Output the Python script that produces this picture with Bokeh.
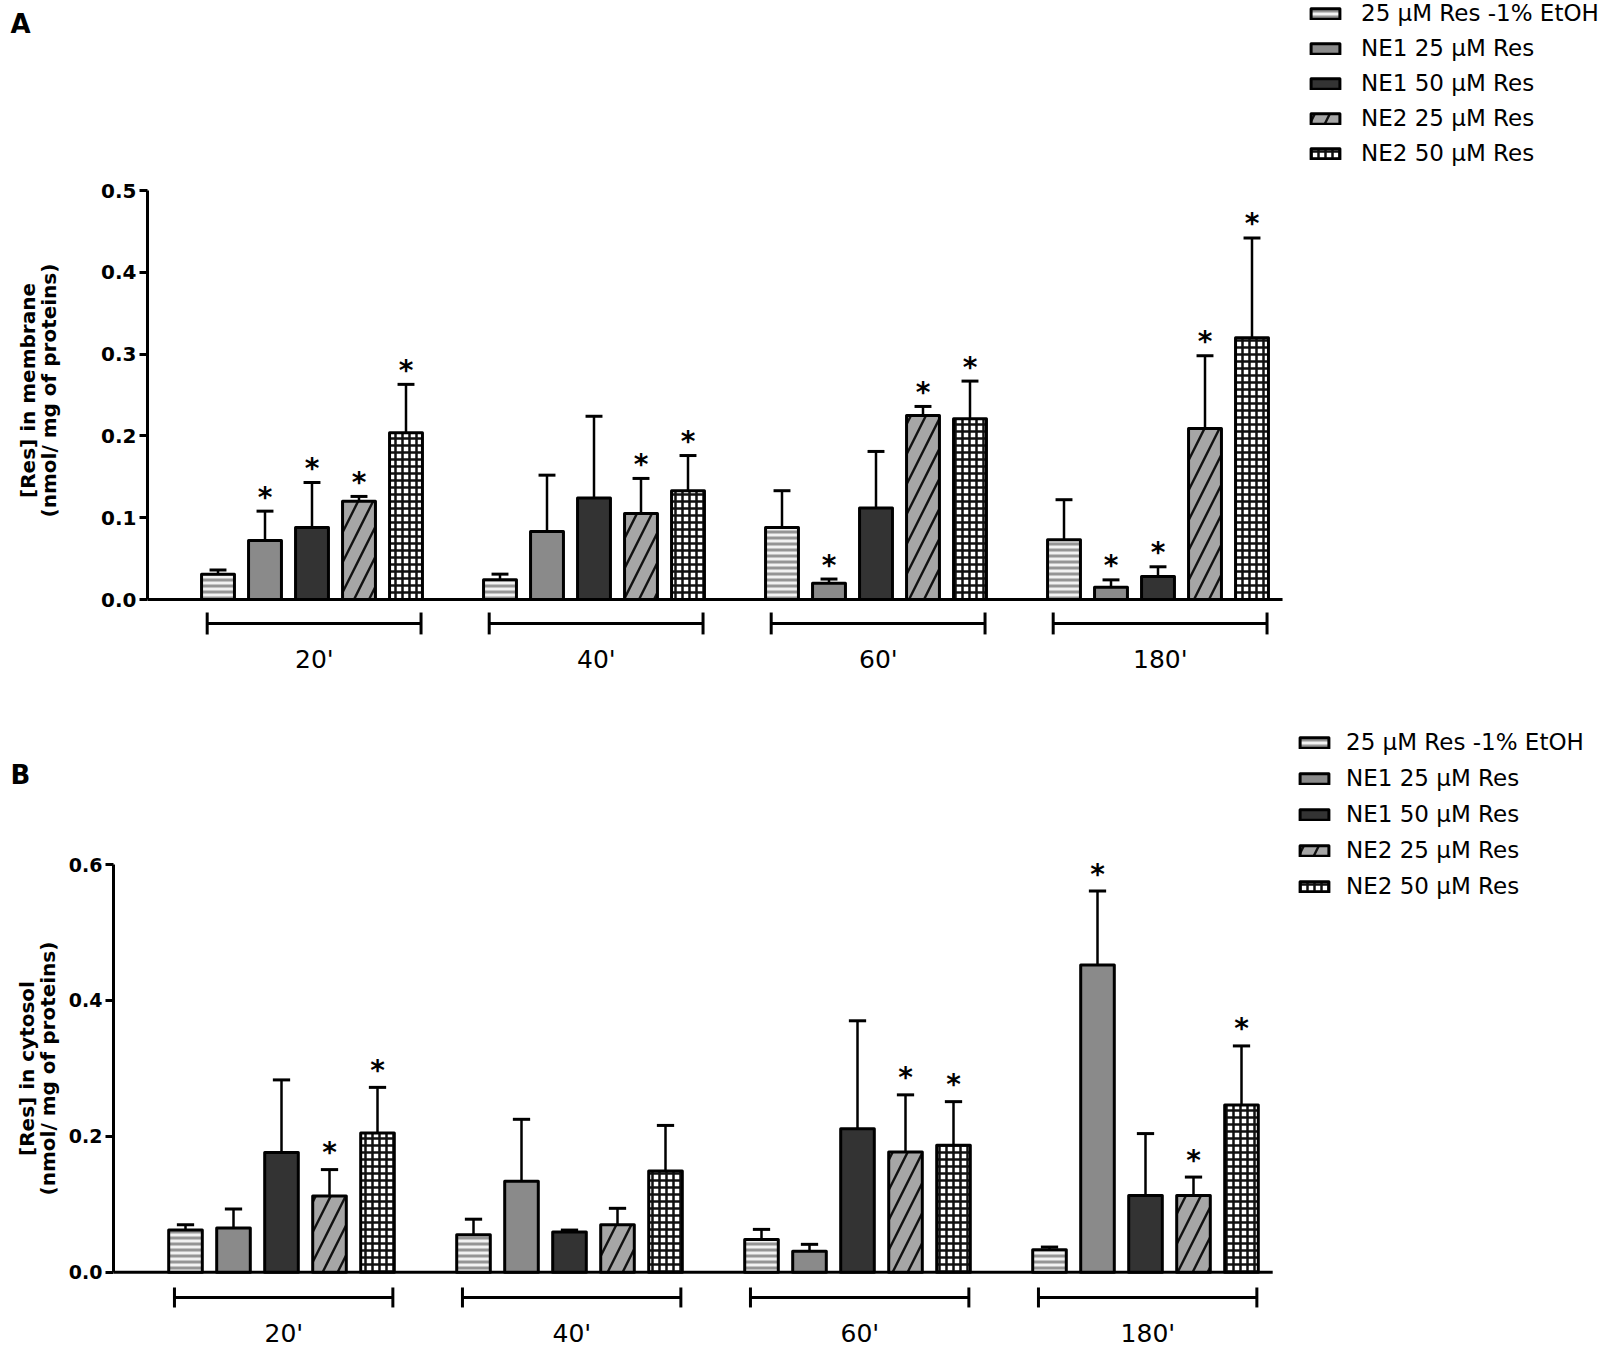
import math
from bokeh.plotting import figure
from bokeh.models import (FixedTicker, PrintfTickFormatter, Legend,
                          LegendItem, ColumnDataSource, Range1d)
from bokeh.layouts import column, row
from bokeh.embed import file_html
from bokeh.resources import INLINE
from bokeh.core.properties import value

# ---------------- data ----------------
times = ["20'", "40'", "60'", "180'"]
series = ["25 µM Res -1% EtOH", "NE1 25 µM Res", "NE1 50 µM Res",
          "NE2 25 µM Res", "NE2 50 µM Res"]

# Panel A: [Res] in membrane (mean, upper SD)
mem_etoh = [0.031, 0.024, 0.088, 0.073]
mem_etoh_sd = [0.005, 0.007, 0.045, 0.049]
mem_ne1_25 = [0.072, 0.083, 0.020, 0.015]
mem_ne1_25_sd = [0.036, 0.069, 0.005, 0.009]
mem_ne1_50 = [0.088, 0.124, 0.112, 0.028]
mem_ne1_50_sd = [0.055, 0.100, 0.069, 0.012]
mem_ne2_25 = [0.120, 0.105, 0.225, 0.209]
mem_ne2_25_sd = [0.006, 0.043, 0.011, 0.089]
mem_ne2_50 = [0.204, 0.133, 0.221, 0.320]
mem_ne2_50_sd = [0.059, 0.043, 0.046, 0.122]
# significance flags (1 = "*")
mem_stars_etoh = [0, 0, 0, 0]
mem_stars_ne1_25 = [1, 0, 1, 1]
mem_stars_ne1_50 = [1, 0, 0, 1]
mem_stars_ne2_25 = [1, 1, 1, 1]
mem_stars_ne2_50 = [1, 1, 1, 1]

# Panel B: [Res] in cytosol
cyt_etoh = [0.062, 0.055, 0.048, 0.033]
cyt_etoh_sd = [0.008, 0.023, 0.015, 0.004]
cyt_ne1_25 = [0.065, 0.134, 0.031, 0.452]
cyt_ne1_25_sd = [0.028, 0.091, 0.010, 0.109]
cyt_ne1_50 = [0.176, 0.059, 0.211, 0.113]
cyt_ne1_50_sd = [0.107, 0.003, 0.159, 0.091]
cyt_ne2_25 = [0.112, 0.070, 0.177, 0.113]
cyt_ne2_25_sd = [0.039, 0.024, 0.084, 0.027]
cyt_ne2_50 = [0.205, 0.149, 0.187, 0.246]
cyt_ne2_50_sd = [0.067, 0.067, 0.064, 0.087]
cyt_stars_etoh = [0, 0, 0, 0]
cyt_stars_ne1_25 = [0, 0, 0, 1]
cyt_stars_ne1_50 = [0, 0, 0, 0]
cyt_stars_ne2_25 = [1, 0, 1, 1]
cyt_stars_ne2_50 = [1, 0, 1, 1]

mem_ticks = [0.0, 0.1, 0.2, 0.3, 0.4, 0.5]
cyt_ticks = [0.0, 0.2, 0.4, 0.6]

mem_title = ["[Res] in membrane", "(nmol/ mg of proteins)"]
cyt_title = ["[Res] in cytosol", "(nmol/ mg of proteins)"]

# ---------------- styles ----------------
FONT = "DejaVu Sans"
STYLES = [
    dict(fill_color="#f2f2f2", hatch_pattern="horizontal_line",
         hatch_color="#959595", hatch_scale=6, hatch_weight=3),
    dict(fill_color="#8a8a8a"),
    dict(fill_color="#333333"),
    dict(fill_color="#a6a6a6", hatch_pattern="right_diagonal_line",
         hatch_color="#111111", hatch_scale=30, hatch_weight=2.4),
    dict(fill_color="#ffffff", hatch_pattern="cross",
         hatch_color="#111111", hatch_scale=7, hatch_weight=2.5),
]

GROUP_STEP = 6
FIRST_OFFSET = 1.5
BAR_W = 0.7


def side_panel(width, height, title_lines, title_x, title_y, letter,
               letter_y):
    """Narrow strip left of the axis holding the rotated y title and letter."""
    s = figure(frame_width=width, frame_height=height,
               x_range=Range1d(0, width), y_range=Range1d(0, height),
               x_axis_location=None, y_axis_location=None,
               output_backend="svg", toolbar_location=None,
               min_border_left=0, min_border_right=0, min_border_top=0,
               min_border_bottom=0)
    s.grid.visible = False
    s.outline_line_color = None
    s.text(x=title_x, y=[title_y] * len(title_lines), text=title_lines,
           angle=math.pi / 2, text_align="center", text_baseline="middle",
           text_font=value(FONT), text_font_style="bold",
           text_font_size="20px", text_color="black")
    s.text(x=[10], y=[letter_y], text=[letter], text_align="left",
           text_baseline="middle", text_font=value(FONT),
           text_font_style="bold", text_font_size="26px",
           text_color="black")
    return s


def build_panel(means, sds, stars, ticks, ymax, cfg):
    pxx, pxy = cfg["px_x"], cfg["px_y"]
    fw, fh, y0 = cfg["frame_w"], cfg["frame_h"], cfg["y0"]
    p = figure(frame_width=fw, frame_height=fh,
               x_range=Range1d(0, fw / pxx),
               y_range=Range1d(-(fh - y0) / pxy, y0 / pxy),
               x_axis_location=None, output_backend="svg",
               toolbar_location=None, min_border_left=cfg["border_left"],
               min_border_right=0, min_border_top=0, min_border_bottom=0)
    p.grid.visible = False
    p.outline_line_color = None

    ax = p.yaxis[0]
    ax.bounds = (0, ymax)
    ax.ticker = FixedTicker(ticks=ticks)
    ax.formatter = PrintfTickFormatter(format="%.1f")
    ax.axis_line_width = 3
    ax.major_tick_line_width = 3
    ax.major_tick_out = 8
    ax.major_tick_in = 0
    ax.minor_tick_line_color = None
    ax.major_label_text_font = FONT
    ax.major_label_text_font_style = "bold"
    ax.major_label_text_font_size = cfg["tick_size"]
    ax.major_label_text_color = "black"
    ax.major_label_standoff = 3

    n_groups = len(times)
    # baseline (x axis line at y = 0)
    p.segment(x0=[0], y0=[0], x1=[n_groups * GROUP_STEP + 0.15], y1=[0],
              line_color="black", line_width=3)

    items = []
    for k, (m, s, st) in enumerate(zip(means, sds, stars)):
        xs = [g * GROUP_STEP + k + FIRST_OFFSET for g in range(n_groups)]
        ups = [a + b for a, b in zip(m, s)]
        src = ColumnDataSource(dict(x=xs, top=m, up=ups))
        r = p.vbar(x="x", top="top", bottom=0, width=BAR_W, source=src,
                   line_color="black", line_width=3, line_join="round",
                   **STYLES[k])
        items.append(LegendItem(label=series[k], renderers=[r]))
        p.segment(x0="x", y0="top", x1="x", y1="up", source=src,
                  line_color="black", line_width=2.5)
        p.segment(x0=[x - 0.18 for x in xs], y0=ups,
                  x1=[x + 0.18 for x in xs], y1=ups,
                  line_color="black", line_width=3)
        sx = [x for x, f in zip(xs, st) if f]
        sy = [u for u, f in zip(ups, st) if f]
        if sx:
            p.text(x=sx, y=sy, text=["*"] * len(sx), text_align="center",
                   text_baseline="alphabetic", y_offset=cfg["star_off"],
                   text_font=value(FONT), text_font_style="bold",
                   text_font_size="28px", text_color="black")

    # group brackets and labels
    yb = cfg["bracket_y"]
    dt = cfg["bracket_tick"]
    bx0 = [g * GROUP_STEP + 1.27 for g in range(n_groups)]
    bx1 = [g * GROUP_STEP + 5.82 for g in range(n_groups)]
    p.segment(x0=bx0, y0=[yb] * n_groups, x1=bx1, y1=[yb] * n_groups,
              line_color="black", line_width=3)
    p.segment(x0=bx0 + bx1, y0=[yb - dt] * (2 * n_groups),
              x1=bx0 + bx1, y1=[yb + dt] * (2 * n_groups),
              line_color="black", line_width=3)
    p.text(x=[g * GROUP_STEP + 3.55 for g in range(n_groups)],
           y=[cfg["label_y"]] * n_groups, text=times, text_align="center",
           text_baseline="middle", text_font=value(FONT),
           text_font_size="25px", text_color="black")

    leg = Legend(items=items, location=cfg["legend_loc"])
    leg.glyph_width = 36
    leg.glyph_height = 13
    leg.label_height = 26
    leg.spacing = cfg["legend_spacing"]
    leg.label_standoff = cfg["legend_standoff"]
    leg.padding = 0
    leg.margin = 0
    leg.border_line_alpha = 0
    leg.background_fill_alpha = 0
    leg.label_text_font = FONT
    leg.label_text_font_size = "23px"
    leg.label_text_color = "black"
    p.add_layout(leg)
    return p


cfg_a = dict(px_x=47.0, px_y=818.0, frame_w=1453, frame_h=700, y0=599,
             border_left=57, tick_size="20px", star_off=-14,
             bracket_y=-0.0293, bracket_tick=0.0134, label_y=-0.0733,
             legend_loc=(1160, 534), legend_spacing=9, legend_standoff=18)
cfg_b = dict(px_x=48.0, px_y=679.5, frame_w=1487, frame_h=648, y0=571.7,
             border_left=53, tick_size="19px", star_off=-17,
             bracket_y=-0.0372, bracket_tick=0.0147, label_y=-0.090,
             legend_loc=(1183, 449), legend_spacing=10, legend_standoff=14)

pa = build_panel([mem_etoh, mem_ne1_25, mem_ne1_50, mem_ne2_25, mem_ne2_50],
                 [mem_etoh_sd, mem_ne1_25_sd, mem_ne1_50_sd, mem_ne2_25_sd,
                  mem_ne2_50_sd],
                 [mem_stars_etoh, mem_stars_ne1_25, mem_stars_ne1_50,
                  mem_stars_ne2_25, mem_stars_ne2_50],
                 mem_ticks, 0.5, cfg_a)
pb = build_panel([cyt_etoh, cyt_ne1_25, cyt_ne1_50, cyt_ne2_25, cyt_ne2_50],
                 [cyt_etoh_sd, cyt_ne1_25_sd, cyt_ne1_50_sd, cyt_ne2_25_sd,
                  cyt_ne2_50_sd],
                 [cyt_stars_etoh, cyt_stars_ne1_25, cyt_stars_ne1_50,
                  cyt_stars_ne2_25, cyt_stars_ne2_50],
                 cyt_ticks, 0.6, cfg_b)

sa = side_panel(90, 700, mem_title, [27, 48], 310, "A", 677)
sb = side_panel(60, 648, cyt_title, [26, 47], 280, "B", 574)

layout = column(row(sa, pa, spacing=0), row(sb, pb, spacing=0), spacing=0)
open("out.html", "w").write(file_html(layout, INLINE))
